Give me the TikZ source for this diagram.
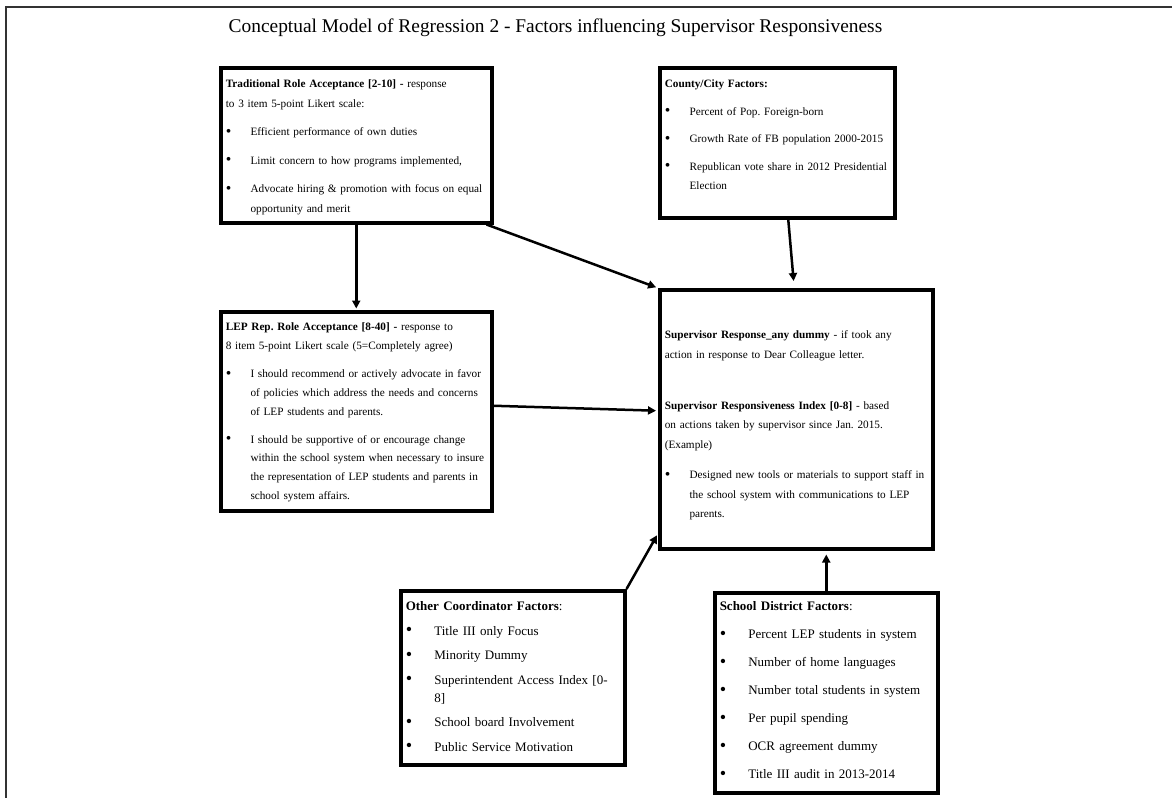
\documentclass[tikz,border=0pt]{standalone}
\usepackage{fontspec}
\setmainfont{Liberation Serif}
\usetikzlibrary{arrows.meta}
\frenchspacing
\hyphenpenalty=10000

\newlength{\itemgap}
\newcommand{\bul}[1]{\par\vspace{\itemgap}\hangindent=2.2em\hangafter=1\noindent\makebox[2.2em][l]{\raisebox{-0.5pt}{\scalebox{1.4}{\textbullet}}}#1\par}

\begin{document}
\begin{tikzpicture}[x=1pt,y=-1pt,
    factor/.style={draw, line width=3.5pt, anchor=north west, inner xsep=5pt, inner ysep=5pt,
      align=left, font=\fontsize{11.25}{19.5}\selectfont},
    bigfactor/.style={factor, font=\fontsize{13}{18}\selectfont},
    bulletgap/.style={execute at begin node={\setlength{\itemgap}{#1}}},
    link/.style={line width=2.5pt, -{Triangle[length=8pt,width=8pt]}}]
  \useasboundingbox (0,0) rectangle (1172,798);
  \draw[line width=1.5pt, black!80] (1172,7) -- (6,7) -- (6,798);

  \node[font=\fontsize{19.4}{23}\selectfont, anchor=base] (title) at (555.5,32)
    {Conceptual Model of Regression 2 - Factors influencing Supervisor Responsiveness};

  % Role acceptance boxes
  \node[factor, bulletgap=9pt, text width=261pt, text height=15pt, text depth=130pt] (trad) at (219,66)
    {\textbf{Traditional Role Acceptance [2-10] -} response\\ to 3 item 5-point Likert scale:
     \bul{Efficient performance of own duties}
     \bul{Limit concern to how programs implemented,}
     \bul{Advocate hiring \& promotion with focus on equal\newline opportunity and merit}};

  \node[factor, font=\fontsize{11.25}{18.7}\selectfont, bulletgap=9.5pt, text width=261pt, text height=14pt, text depth=175pt] (lep) at (219,310)
    {\textbf{LEP Rep. Role Acceptance [8-40] -} response to\\ 8 item 5-point Likert scale (5=Completely agree)
     \bul{I should recommend or actively advocate in favor\newline of policies which address the needs and concerns\newline of LEP students and parents.}
     \bul{I should be supportive of or encourage change\newline within the school system when necessary to insure\newline the representation of LEP students and parents in\newline school system affairs.}};

  % County/City factors
  \node[factor, font=\fontsize{11.25}{19}\selectfont, bulletgap=8.5pt, text width=225pt, text height=15pt, text depth=125pt] (county) at (658,66)
    {\textbf{County/City Factors:}
     \bul{Percent of Pop. Foreign-born}
     \bul{Growth Rate of FB population 2000-2015}
     \bul{Republican vote share in 2012 Presidential\newline Election}};

  % Outcome
  \node[factor, bulletgap=11pt, text width=263pt, text height=44pt, text depth=205pt] (sup) at (658,288)
    {\textbf{Supervisor Response\_any dummy} - if took any\\ action in response to Dear Colleague letter.\par\vspace{31.5pt}
     \noindent\textbf{Supervisor Responsiveness Index [0-8]} - based\\ on actions taken by supervisor since Jan. 2015.\\ (Example)
     \bul{Designed new tools or materials to support staff in\newline the school system with communications to LEP\newline parents.}};

  % Coordinator and district factors
  \node[bigfactor, bulletgap=6.5pt, text width=214pt, text height=15pt, text depth=149pt] (other) at (399,589)
    {\textbf{Other Coordinator Factors}:
     \bul{Title III only Focus}
     \bul{Minority Dummy}
     \bul{Superintendent Access Index [0-\newline 8]}
     \bul{School board Involvement}
     \bul{Public Service Motivation}};

  \node[bigfactor, bulletgap=10pt, text width=213pt, text height=13pt, text depth=177pt] (school) at (713,591)
    {\textbf{School District Factors}:
     \bul{Percent LEP students in system}
     \bul{Number of home languages}
     \bul{Number total students in system}
     \bul{Per pupil spending}
     \bul{OCR agreement dummy}
     \bul{Title III audit in 2013-2014}};

  % Arrows
  \draw[link, shorten >=1.5pt] (trad.south) -- (lep.north);
  \draw[link, shorten >=2pt] ([xshift=-7pt]trad.south east) -- (sup.north west);
  \draw[link, shorten >=7pt] ([xshift=11pt]county.south) -- ([xshift=-2pt]sup.north);
  \draw[link, shorten >=2pt] ([yshift=5.5pt]lep.east) -- ([yshift=8.5pt]sup.west);
  \draw[link, shorten >=2pt] (other.north east) -- ([yshift=17pt]sup.south west);
  \draw[link, shorten >=4pt] (school.north) -- (sup.south -| school.north);
\end{tikzpicture}
\end{document}
